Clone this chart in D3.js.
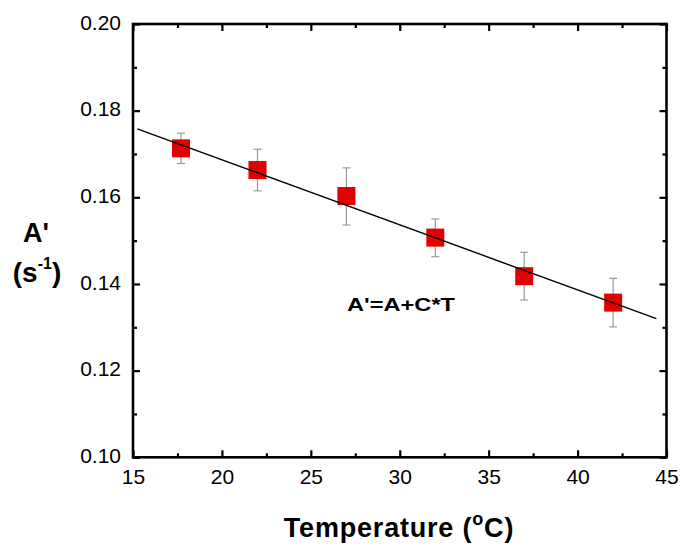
<!DOCTYPE html>
<html><head><meta charset="utf-8">
<script src="https://cdn.jsdelivr.net/npm/d3@7"></script>
<style>body{margin:0;background:#fff;} text{font-family:"Liberation Sans",Arial,sans-serif;}</style>
</head><body><svg id="c" width="681" height="550"></svg>
<script>
const temps = [17.7, 22, 27, 32, 37, 42];
const values = [0.1713, 0.1663, 0.1603, 0.1507, 0.1418, 0.1357];
const errLow = [0.1678, 0.1615, 0.1536, 0.1463, 0.1363, 0.1301];
const errHigh = [0.1748, 0.1711, 0.1668, 0.1550, 0.1473, 0.1413];
const fitT = [15.24, 44.43];
const fitA = [0.1758, 0.1320];
const xTicks = [15, 20, 25, 30, 35, 40, 45];
const yTicks = [0.10, 0.12, 0.14, 0.16, 0.18, 0.20];

const svg = d3.select("#c");
const L = 133, R = 666.5, T = 24, B = 457.3;
const x = d3.scaleLinear().domain([15, 45]).range([L, R]);
const y = d3.scaleLinear().domain([0.10, 0.20]).range([B, T]);

const xMinor = d3.range(17.5, 45, 5);
const yMinor = d3.range(0.11, 0.20, 0.02);

function ax(axisFn, scale, ticks, size, tr, fmt) {
  const g = svg.append("g").attr("transform", tr)
    .call(axisFn(scale).tickValues(ticks).tickSize(size).tickFormat(fmt || ""));
  g.select(".domain").remove();
  g.selectAll(".tick line").attr("stroke", "#000").attr("stroke-width", 2.2);
  return g;
}
const gb = ax(d3.axisTop, x, xTicks, 7, `translate(0,${B})`, d3.format("d"));
gb.selectAll(".tick text").attr("y", 27).attr("dy", 0).attr("font-size", 21).attr("fill", "#000");
ax(d3.axisTop, x, xMinor, 4, `translate(0,${B})`);
ax(d3.axisBottom, x, xTicks, 7, `translate(0,${T})`);
ax(d3.axisBottom, x, xMinor, 4, `translate(0,${T})`);
const gl = ax(d3.axisRight, y, yTicks, 7, `translate(${L},0)`, d3.format(".2f"));
gl.selectAll(".tick text").attr("x", -12).attr("text-anchor", "end").attr("dy", "0.24em").attr("font-size", 21).attr("fill", "#000");
ax(d3.axisRight, y, yMinor, 4, `translate(${L},0)`);
ax(d3.axisLeft, y, yTicks, 7, `translate(${R},0)`);
ax(d3.axisLeft, y, yMinor, 4, `translate(${R},0)`);

svg.append("rect").attr("x", L).attr("y", T).attr("width", R - L).attr("height", B - T)
  .attr("fill", "none").attr("stroke", "#000").attr("stroke-width", 2.6);

const eb = svg.append("g").attr("stroke", "#9a9a9a").attr("stroke-width", 1.2);
temps.forEach((t, i) => {
  eb.append("line").attr("x1", x(t)).attr("x2", x(t)).attr("y1", y(errLow[i])).attr("y2", y(errHigh[i]));
  [errLow[i], errHigh[i]].forEach(v => eb.append("line").attr("x1", x(t) - 4).attr("x2", x(t) + 4).attr("y1", y(v)).attr("y2", y(v)));
});

svg.append("g").selectAll("rect").data(temps).join("rect")
  .attr("x", d => x(d) - 9).attr("y", (d, i) => y(values[i]) - 9)
  .attr("width", 18).attr("height", 18).attr("fill", "#e30000");

svg.append("line").attr("x1", x(fitT[0])).attr("y1", y(fitA[0]))
  .attr("x2", x(fitT[1])).attr("y2", y(fitA[1])).attr("stroke", "#000").attr("stroke-width", 1.4);

svg.append("text").attr("x", 347).attr("y", 311).attr("font-size", 19).attr("font-weight", "bold")
  .attr("textLength", 108).attr("lengthAdjust", "spacingAndGlyphs").text("A'=A+C*T");

const xt = svg.append("text").attr("x", 399).attr("y", 537).attr("text-anchor", "middle")
  .attr("font-size", 27).attr("font-weight", "bold").attr("letter-spacing", 0.8);
xt.append("tspan").text("Temperature (");
xt.append("tspan").attr("font-size", 18).attr("dy", -12).text("o");
xt.append("tspan").attr("dy", 12).text("C)");

svg.append("text").attr("x", 36).attr("y", 242).attr("text-anchor", "middle")
  .attr("font-size", 27).attr("font-weight", "bold").text("A'");
const yt = svg.append("text").attr("x", 37).attr("y", 282).attr("text-anchor", "middle")
  .attr("font-size", 28).attr("font-weight", "bold");
yt.append("tspan").text("(s");
yt.append("tspan").attr("font-size", 16).attr("dy", -13).text("-1");
yt.append("tspan").attr("dy", 13).text(")");
</script></body></html>
